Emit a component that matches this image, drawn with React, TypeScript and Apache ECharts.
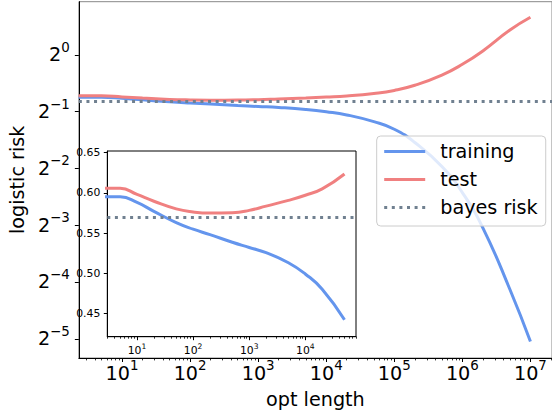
import React, { useEffect, useRef } from 'react';
import * as echarts from 'echarts';

// ---- data ----
const OPT_LENGTH = [2.3, 5, 10, 20, 50, 100, 200, 500, 1e3, 2e3, 5e3, 1e4, 2e4, 5e4, 1e5, 2e5, 5e5, 1e6, 2e6, 5e6, 1e7];
const TRAINING = [0.595, 0.595, 0.588, 0.577, 0.563, 0.5548, 0.548, 0.5385, 0.532, 0.5255, 0.513, 0.499, 0.48, 0.442, 0.403, 0.343, 0.256, 0.186, 0.121, 0.057, 0.0302];
const TEST = [0.6057, 0.6057, 0.598, 0.5895, 0.58, 0.5762, 0.5748, 0.5753, 0.5782, 0.5835, 0.5906, 0.597, 0.605, 0.6235, 0.647, 0.689, 0.78, 0.89, 1.048, 1.352, 1.58];
const BAYES_RISK = 0.57;
const INSET_MAX_OPT = 5e4;

const MAIN_X_DECADES = [1, 2, 3, 4, 5, 6, 7];
const MAIN_Y_POW2 = [-5, -4, -3, -2, -1, 0];
const INSET_X_DECADES = [1, 2, 3, 4];
const INSET_Y_TICKS = [0.45, 0.5, 0.55, 0.6, 0.65];

const SERIES_NAMES = ['training', 'test', 'bayes risk'];

// ---- layout / style ----
const FONT = 'DejaVu Sans';
const C_TRAIN = '#6495ED';
const C_TEST = '#F08080';
const C_BAYES = '#708090';

const MAIN_X = [0.365, 7.317]; // log10 extent
const MAIN_Y = [-5.338, 0.934]; // log2 extent
const INSET_X = [0.47, 4.904]; // log10 extent
const INSET_Y = [0.4209, 0.6521];

function minorTicks(lo: number, hi: number): number[] {
  const out: number[] = [];
  for (let n = Math.floor(lo); n <= Math.ceil(hi); n++) {
    for (let k = 2; k <= 9; k++) {
      const v = n + Math.log10(k);
      if (v > lo && v < hi) out.push(v);
    }
  }
  return out;
}

const sup = (base: string, e: number) => `{b|${base}}{s|${e < 0 ? '\u2212' + -e : e}}`;

const MAIN_RICH = {
  b: { fontSize: 19.2, lineHeight: 28, fontFamily: FONT, color: '#000' },
  s: { fontSize: 13.4, lineHeight: 12, verticalAlign: 'top', fontFamily: FONT, color: '#000' },
};
const INSET_RICH = {
  b: { fontSize: 10.8, lineHeight: 16.4, fontFamily: FONT, color: '#000' },
  s: { fontSize: 7.6, lineHeight: 7, verticalAlign: 'top', fontFamily: FONT, color: '#000' },
};

const BLACK_LINE = { color: '#000', width: 1 };

export default function App() {
  const ref = useRef<HTMLDivElement>(null);
  useEffect(() => {
    if (!ref.current) return;
    const chart = echarts.init(ref.current, undefined, { renderer: 'svg' });

    const mainTrain = OPT_LENGTH.map((x, i) => [x, TRAINING[i]]);
    const mainTest = OPT_LENGTH.map((x, i) => [x, TEST[i]]);
    const insetTrain = mainTrain.filter((d) => d[0] <= INSET_MAX_OPT);
    const insetTest = mainTest.filter((d) => d[0] <= INSET_MAX_OPT);

    const lineSeries = (name: string, color: string, data: number[][], xi: number, yi: number) => ({
      type: 'line',
      name,
      xAxisIndex: xi,
      yAxisIndex: yi,
      data,
      symbol: 'none',
      smooth: 0.5,
      color,
      lineStyle: { color, width: 3 },
      clip: true,
      silent: true,
      z: 3,
    });
    const bayesSeries = (xi: number, yi: number) => ({
      type: 'line',
      name: 'bayes risk',
      xAxisIndex: xi,
      yAxisIndex: yi,
      data: [],
      symbol: 'none',
      color: C_BAYES,
      lineStyle: { color: C_BAYES, width: 3, type: [3, 4.6] },
      markLine: {
        silent: true,
        symbol: ['none', 'none'],
        label: { show: false },
        lineStyle: { color: C_BAYES, width: 3, type: [3, 4.6] },
        data: [{ yAxis: BAYES_RISK }],
        animation: false,
      },
      z: 3,
    });

    const option: any = {
      animation: false,
      textStyle: { fontFamily: FONT },
      grid: [
        { left: 73, top: 1.7, width: 482, height: 360, show: true, borderColor: '#888', borderWidth: 1, containLabel: false },
        { left: 107.3, top: 151, width: 248.7, height: 185.7, show: true, borderColor: '#000', borderWidth: 1, backgroundColor: '#fff', containLabel: false },
      ],
      xAxis: [
        { type: 'log', logBase: 10, gridIndex: 0, min: Math.pow(10, MAIN_X[0]), max: Math.pow(10, MAIN_X[1]), show: false },
        {
          type: 'value', gridIndex: 0, position: 'bottom', min: MAIN_X[0], max: MAIN_X[1],
          axisLine: { show: true, onZero: false, lineStyle: BLACK_LINE },
          axisTick: { show: true, customValues: MAIN_X_DECADES, length: 4, lineStyle: BLACK_LINE },
          axisLabel: { show: true, customValues: MAIN_X_DECADES, formatter: (v: number) => sup('10', Math.round(v)), margin: 1, rich: MAIN_RICH },
          splitLine: { show: false },
          name: 'opt length', nameLocation: 'middle', nameGap: 32,
          nameTextStyle: { fontSize: 19.2, color: '#000', fontFamily: FONT },
        },
        {
          type: 'value', gridIndex: 0, position: 'bottom', min: MAIN_X[0], max: MAIN_X[1],
          axisLine: { show: false, onZero: false },
          axisTick: { show: true, customValues: minorTicks(MAIN_X[0], MAIN_X[1]), length: 2.4, lineStyle: { color: '#000', width: 0.8 } },
          axisLabel: { show: false },
          splitLine: { show: false },
        },
        { type: 'log', logBase: 10, gridIndex: 1, min: Math.pow(10, INSET_X[0]), max: Math.pow(10, INSET_X[1]), show: false },
        {
          type: 'value', gridIndex: 1, position: 'bottom', min: INSET_X[0], max: INSET_X[1],
          axisLine: { show: true, onZero: false, lineStyle: BLACK_LINE },
          axisTick: { show: true, customValues: INSET_X_DECADES, length: 3.5, lineStyle: BLACK_LINE },
          axisLabel: { show: true, customValues: INSET_X_DECADES, formatter: (v: number) => sup('10', Math.round(v)), margin: 6, rich: INSET_RICH },
          splitLine: { show: false },
        },
        {
          type: 'value', gridIndex: 1, position: 'bottom', min: INSET_X[0], max: INSET_X[1],
          axisLine: { show: false, onZero: false },
          axisTick: { show: true, customValues: minorTicks(INSET_X[0], INSET_X[1]), length: 2, lineStyle: { color: '#000', width: 0.8 } },
          axisLabel: { show: false },
          splitLine: { show: false },
        },
      ],
      yAxis: [
        { type: 'log', logBase: 2, gridIndex: 0, min: Math.pow(2, MAIN_Y[0]), max: Math.pow(2, MAIN_Y[1]), show: false },
        {
          type: 'value', gridIndex: 0, position: 'left', min: MAIN_Y[0], max: MAIN_Y[1],
          axisLine: { show: true, onZero: false, lineStyle: BLACK_LINE },
          axisTick: { show: true, customValues: MAIN_Y_POW2, length: 4, lineStyle: BLACK_LINE },
          axisLabel: { show: true, customValues: MAIN_Y_POW2, formatter: (v: number) => sup('2', Math.round(v)), margin: 9, rich: MAIN_RICH },
          splitLine: { show: false },
          name: 'logistic risk', nameLocation: 'middle', nameGap: 40,
          nameTextStyle: { fontSize: 19.2, color: '#000', fontFamily: FONT },
        },
        {
          type: 'value', gridIndex: 1, position: 'left', min: INSET_Y[0], max: INSET_Y[1],
          axisLine: { show: true, onZero: false, lineStyle: BLACK_LINE },
          axisTick: { show: true, customValues: INSET_Y_TICKS, length: 3.5, lineStyle: BLACK_LINE },
          axisLabel: { show: true, customValues: INSET_Y_TICKS, formatter: (v: number) => v.toFixed(2), margin: 7, fontSize: 10.8, color: '#000', fontFamily: FONT },
          splitLine: { show: false },
        },
      ],
      legend: {
        data: SERIES_NAMES,
        orient: 'vertical',
        left: 376.7,
        top: 136,
        itemWidth: 41,
        itemHeight: 4,
        itemGap: 9,
        padding: [6, 8, 9, 6],
        backgroundColor: 'rgba(255,255,255,0.8)',
        borderColor: '#cccccc',
        borderWidth: 1,
        borderRadius: 4,
        selectedMode: false,
        itemStyle: { opacity: 0 },
        lineStyle: { width: 3 },
        textStyle: { fontSize: 19.2, color: '#000', fontFamily: FONT, padding: [0, 0, 0, 10] },
      },
      series: [
        lineSeries('training', C_TRAIN, mainTrain, 0, 0),
        lineSeries('test', C_TEST, mainTest, 0, 0),
        bayesSeries(0, 0),
        lineSeries('training', C_TRAIN, insetTrain, 3, 2),
        lineSeries('test', C_TEST, insetTest, 3, 2),
        bayesSeries(3, 2),
      ],
    };
    chart.setOption(option);
    return () => chart.dispose();
  }, []);
  return <div ref={ref} style={{ position: 'fixed', left: 0, top: 0, width: 552, height: 414, background: '#fff' }} />;
}
